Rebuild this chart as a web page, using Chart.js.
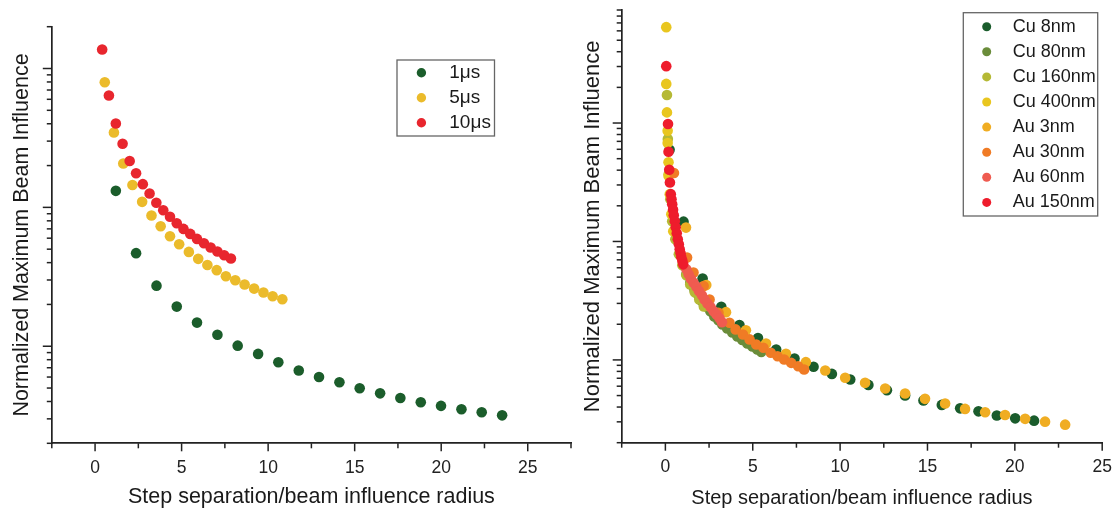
<!DOCTYPE html>
<html><head><meta charset="utf-8">
<script src="https://cdn.jsdelivr.net/npm/chart.js@4.4.1/dist/chart.umd.min.js"></script>
<style>
html,body{margin:0;padding:0;background:#fff;width:1113px;height:508px;overflow:hidden}
#l{position:absolute;left:0;top:0}
#r{position:absolute;left:560px;top:0}
</style></head><body>
<canvas id="l" width="580" height="508"></canvas>
<canvas id="r" width="553" height="508"></canvas>
<script>
// ---------- Left panel data ----------
const leftLabels = ['1\u03bcs', '5\u03bcs', '10\u03bcs'];
const leftColors = ['#1b5d2b', '#ebbb2b', '#e8262e'];
const x1us = [1.20,2.37,3.55,4.72,5.89,7.07,8.24,9.42,10.59,11.77,12.94,14.12,15.29,16.47,17.64,18.82,19.99,21.17,22.34,23.52];
const y1us = [0.1315,0.0468,0.0273,0.0193,0.0148,0.0121,0.0101,0.00881,0.00767,0.00668,0.00601,0.00551,0.00498,0.00458,0.00424,0.00395,0.00372,0.00352,0.00335,0.00318];
const x5us = [0.56,1.09,1.63,2.16,2.72,3.26,3.79,4.33,4.86,5.42,5.96,6.49,7.03,7.56,8.10,8.64,9.19,9.73,10.26,10.82];
const y5us = [0.797,0.346,0.207,0.145,0.1096,0.0873,0.0731,0.0620,0.0543,0.0478,0.0426,0.0385,0.0353,0.0319,0.0299,0.0278,0.0260,0.0244,0.0229,0.0218];
const x10us = [0.41,0.80,1.20,1.59,2.00,2.37,2.76,3.15,3.54,3.94,4.33,4.72,5.11,5.50,5.89,6.29,6.68,7.07,7.46,7.85];
const y10us = [1.37,0.639,0.402,0.287,0.216,0.176,0.147,0.126,0.108,0.0954,0.0855,0.0769,0.0700,0.0644,0.0593,0.0552,0.0514,0.0481,0.0452,0.0428];

// ---------- Right panel data ----------
const rightLabels = ['Cu 8nm','Cu 80nm','Cu 160nm','Cu 400nm','Au 3nm','Au 30nm','Au 60nm','Au 150nm'];
const rightColors = ['#1a5c2c','#6a8c3a','#b5b935','#e9c61f','#f0ad22','#f07b25','#ef5b50','#ee1c2c'];
const xCu8 = [0.24,1.04,2.13,3.20,4.24,5.30,6.34,7.39,8.48,9.53,10.58,11.62,12.68,13.72,14.77,15.82,16.87,17.92,18.97,20.02,21.10];
const yCu8 = [0.594,0.147,0.0486,0.0281,0.0197,0.0153,0.01225,0.01028,0.00875,0.00762,0.00683,0.00615,0.00554,0.00500,0.00454,0.00417,0.00390,0.00368,0.00339,0.00321,0.00307];
const xCu80 = [1.20,1.43,1.66,1.89,2.11,2.34,2.57,2.80,3.03,3.26,3.54,3.83,4.12,4.40,4.69,4.98,5.26,5.49];
const yCu80 = [0.0528,0.0452,0.0394,0.0351,0.0312,0.0283,0.0257,0.0233,0.0216,0.0199,0.01843,0.01705,0.01578,0.01473,0.01376,0.01298,0.01225,0.01166];
const xCu160 = [0.09,0.14,0.19,0.28,0.39,0.57,0.77,0.97,1.20,1.42,1.68,1.94,2.20];
const yCu160 = [1.726,0.732,0.370,0.2275,0.148,0.1044,0.0779,0.0629,0.0518,0.0434,0.0372,0.0324,0.0283];
const xCu400 = [0.05,0.05,0.09,0.13,0.13,0.18,0.18,0.25,0.34,0.45];
const yCu400 = [6.45,2.14,1.23,0.861,0.677,0.466,0.358,0.251,0.170,0.122];
const xAu3 = [1.18,2.34,3.47,4.61,5.76,6.90,8.04,9.15,10.29,11.43,12.58,13.72,14.86,16.01,17.15,18.30,19.44,20.59,21.73,22.88];
const yAu3 = [0.131,0.0428,0.0253,0.0178,0.01377,0.01127,0.00957,0.00813,0.00706,0.00640,0.00573,0.00520,0.00469,0.00428,0.00386,0.00361,0.00343,0.00318,0.00301,0.00284];
const xAu30 = [0.49,1.24,1.61,2.19,2.53,3.04,3.67,4.02,4.44,4.82,5.20,5.61,6.03,6.42,6.80,7.20,7.60,7.94];
const yAu30 = [0.378,0.0731,0.0546,0.0420,0.0324,0.0250,0.0206,0.0181,0.0164,0.0149,0.0135,0.01265,0.01148,0.01074,0.01007,0.00944,0.00883,0.00830];
const xAu60 = [1.20,1.33,1.46,1.61,1.77,1.92,2.09,2.24,2.41,2.59,2.76,2.93,3.10,3.24];
const yAu60 = [0.0582,0.0528,0.0485,0.0449,0.0415,0.0381,0.0351,0.0324,0.0300,0.0279,0.0258,0.0242,0.0225,0.0208];
const xAu150 = [0.05,0.15,0.18,0.22,0.26,0.31,0.35,0.39,0.44,0.48,0.54,0.59,0.65,0.71,0.77,0.82,0.87,0.91,0.97,1.02];
const yAu150 = [3.02,0.981,0.572,0.403,0.315,0.251,0.2275,0.2064,0.1855,0.1667,0.1483,0.1319,0.1173,0.1044,0.0947,0.0859,0.0795,0.0735,0.0687,0.0641];

// ---------- Axis ticks ----------
const xTicksLeft = [-2.5,0,2.5,5,7.5,10,12.5,15,17.5,20,22.5,25,27.5];
const xTicksRight = [-2.5,0,2.5,5,7.5,10,12.5,15,17.5,20,22.5,25];
const xTitle = 'Step separation/beam influence radius';
const yTitle = 'Normalized Maximum Beam Influence';

function logTicks(min, max) {
  const out = [];
  for (let e = -4; e <= 2; e++) {
    for (let m = 1; m <= 9; m++) {
      const v = parseFloat((m * Math.pow(10, e)).toPrecision(6));
      if (v >= min * 0.9999 && v <= max * 1.0001) out.push(v);
    }
  }
  return out;
}

const FONT = "'Liberation Sans', Arial, Helvetica, sans-serif";

const tickMarks = {
  id: 'tickMarks',
  afterDraw(chart, args, o) {
    const ctx = chart.ctx;
    const xs = chart.scales.x, ys = chart.scales.y;
    ctx.save();
    ctx.strokeStyle = o.color;
    ctx.lineWidth = o.width;
    xs.ticks.forEach(t => {
      const p = xs.getPixelForValue(t.value);
      const major = Math.abs(t.value % 5) < 1e-9;
      const len = major ? o.xMajor : o.xMinor;
      ctx.beginPath(); ctx.moveTo(p, xs.top); ctx.lineTo(p, xs.top + len); ctx.stroke();
    });
    ys.ticks.forEach(t => {
      const p = ys.getPixelForValue(t.value);
      const l = Math.log10(t.value);
      const major = Math.abs(l - Math.round(l)) < 1e-6;
      const len = major ? o.yMajor : o.yMinor;
      ctx.beginPath(); ctx.moveTo(ys.right, p); ctx.lineTo(ys.right - len, p); ctx.stroke();
    });
    ctx.restore();
  }
};

const boxLegend = {
  id: 'boxLegend',
  afterDraw(chart, args, o) {
    const ctx = chart.ctx;
    ctx.save();
    ctx.strokeStyle = o.borderColor;
    ctx.lineWidth = o.borderWidth;
    ctx.strokeRect(o.left, o.top, o.width, o.height);
    ctx.font = o.fontSize + 'px ' + FONT;
    ctx.textBaseline = 'middle';
    ctx.textAlign = 'left';
    o.labels.forEach((lab, i) => {
      const y = o.firstRow + i * o.rowGap;
      ctx.fillStyle = o.colors[i];
      ctx.beginPath(); ctx.arc(o.dotX, y, o.dotR, 0, Math.PI * 2); ctx.fill();
      ctx.fillStyle = '#1a1a1a';
      ctx.fillText(lab, o.textX, y);
    });
    ctx.restore();
  }
};

function build(id, p) {
  const n = p.series.length;
  const datasets = p.series.map((s, i) => ({
    label: p.labels[i],
    data: s[0].map((x, k) => ({x: x, y: s[1][k]})),
    backgroundColor: p.colors[i],
    borderWidth: 0,
    pointRadius: 5.3,
    pointHoverRadius: 5.3,
    order: n - i
  }));
  return new Chart(document.getElementById(id), {
    type: 'scatter',
    data: {datasets},
    plugins: [tickMarks, boxLegend],
    options: {
      responsive: false,
      animation: false,
      devicePixelRatio: 1,
      events: [],
      layout: {padding: {left: 0, top: p.padTop, right: p.padRight, bottom: 0}},
      plugins: {
        legend: {display: false},
        tooltip: {enabled: false},
        tickMarks: {color: '#222', width: 1.5, xMajor: 8, xMinor: 5, yMajor: 9, yMinor: 5},
        boxLegend: p.legend
      },
      scales: {
        x: {
          type: 'linear', min: p.xMin, max: p.xMax,
          afterBuildTicks: s => { s.ticks = p.xTicks.map(v => ({value: v})); },
          afterFit: s => { s.height = p.xH; s.paddingLeft = 0; s.paddingRight = 0; },
          grid: {display: false},
          border: {display: true, color: '#222', width: 1.7},
          ticks: {
            autoSkip: false, maxRotation: 0, minRotation: 0, padding: 6,
            color: '#222', font: {family: FONT, size: 17.5},
            callback: v => (v >= 0 && Math.abs(v % 5) < 1e-9) ? String(v) : ''
          },
          title: {display: true, text: xTitle, color: '#1a1a1a',
                  font: {family: FONT, size: p.xTitleSize, lineHeight: 1},
                  padding: {top: 0, bottom: p.xTitlePad}}
        },
        y: {
          type: 'logarithmic', min: p.yMin, max: p.yMax,
          afterBuildTicks: s => { s.ticks = logTicks(p.yMin, p.yMax).map(v => ({value: v})); },
          afterFit: s => { s.width = p.yW; s.paddingTop = 0; s.paddingBottom = 0; },
          grid: {display: false},
          border: {display: true, color: '#222', width: 1.7},
          ticks: {display: false},
          title: {display: true, text: yTitle, color: '#1a1a1a',
                  font: {family: FONT, size: p.yTitleSize, lineHeight: 1},
                  padding: {top: p.yTitlePad, bottom: 0}}
        }
      }
    }
  });
}

build('l', {
  labels: leftLabels, colors: leftColors,
  series: [[x1us, y1us], [x5us, y5us], [x10us, y10us]],
  xMin: -2.5, xMax: 27.5, xTicks: xTicksLeft,
  yMin: 0.002, yMax: 2,
  yW: 51.8, xH: 64.7, padTop: 26.7, padRight: 9,
  xTitleSize: 21.5, xTitlePad: 0.5, yTitleSize: 21.5, yTitlePad: 11,
  legend: {left: 397, top: 60, width: 97.5, height: 76, borderColor: '#666', borderWidth: 1.3,
           dotX: 421.4, dotR: 4.7, textX: 449.3, firstRow: 72.7, rowGap: 25, fontSize: 19,
           labels: leftLabels, colors: leftColors}
});

build('r', {
  labels: rightLabels, colors: rightColors,
  series: [[xCu8, yCu8], [xCu80, yCu80], [xCu160, yCu160], [xCu400, yCu400],
           [xAu3, yAu3], [xAu30, yAu30], [xAu60, yAu60], [xAu150, yAu150]],
  xMin: -2.5, xMax: 25, xTicks: xTicksRight,
  yMin: 0.002, yMax: 9,
  yW: 61.7, xH: 65.3, padTop: 10, padRight: 10.8,
  xTitleSize: 20, xTitlePad: 0, yTitleSize: 22, yTitlePad: 21.7,
  legend: {left: 403.3, top: 12.7, width: 134.4, height: 203.3, borderColor: '#666', borderWidth: 1.3,
           dotX: 426.7, dotR: 4.5, textX: 452.7, firstRow: 26.7, rowGap: 25.1, fontSize: 18,
           labels: rightLabels, colors: rightColors}
});
</script>
</body></html>
